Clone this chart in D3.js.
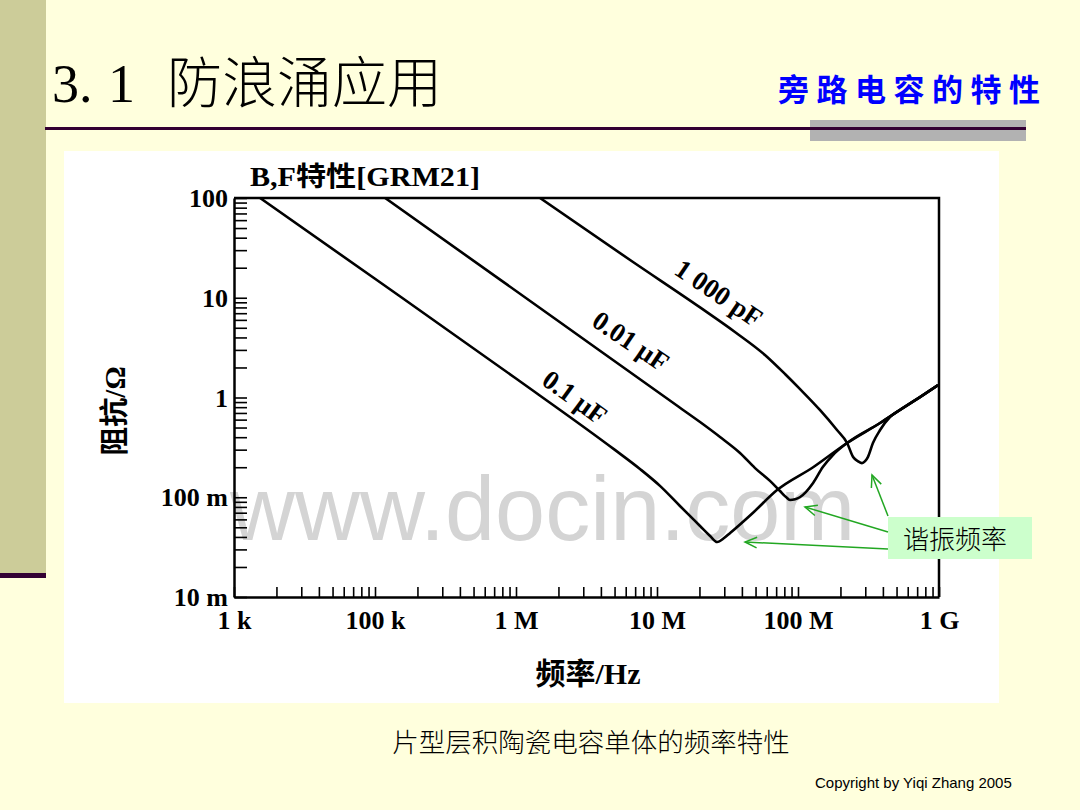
<!DOCTYPE html>
<html><head><meta charset="utf-8">
<script src="https://cdn.jsdelivr.net/npm/d3@7"></script>
<style>
html,body{margin:0;padding:0;background:#ffffdd;}
svg{display:block;}
</style></head>
<body>
<svg id="c" width="1080" height="810"></svg>
<script>
// ---------------- DATA ----------------
const xTickValues = [1e4, 1e5, 1e6, 1e7, 1e8, 1e9];
const xTickLabels = ["1 k", "100 k", "1 M", "10 M", "100 M", "1 G"];
const yTickValues = [100, 10, 1, 0.1, 0.01];
const yTickLabels = ["100", "10", "1", "100 m", "10 m"];

const seriesNames = ["0.1 μF", "0.01 μF", "1 000 pF"];

// 0.1 uF
const c1Freq = [1.53e4, 1e5, 1e6, 5e6, 7.57e6, 1.05e7, 1.455e7, 2.02e7, 2.38e7, 2.67e7, 2.99e7, 3.3e7, 4.8e7, 7.1e7, 1.28e8, 2.23e8, 3.82e8, 5.29e8, 7.33e8, 9.84e8];
const c1Imp  = [100, 15.5, 1.55, 0.30, 0.192, 0.130, 0.0817, 0.0515, 0.0409, 0.0356, 0.039, 0.0438, 0.070, 0.118, 0.20, 0.35, 0.555, 0.75, 1.01, 1.33];
// 0.01 uF
const c2Freq = [1.18e5, 7.71e5, 3.94e6, 1.455e7, 2.02e7, 2.80e7, 3.88e7, 4.96e7, 6.33e7, 7.45e7, 8.22e7, 8.77e7, 9.53e7, 1.03e8, 1.28e8, 1.50e8, 1.77e8, 2.23e8, 3.82e8, 5.29e8, 7.33e8, 9.84e8];
const c2Imp  = [100, 15.2, 2.94, 0.79, 0.568, 0.402, 0.278, 0.196, 0.146, 0.1156, 0.1005, 0.094, 0.0955, 0.100, 0.139, 0.201, 0.265, 0.35, 0.555, 0.75, 1.01, 1.33];
// 1000 pF
const c3Freq = [1.48e6, 6.76e6, 2.02e7, 3.57e7, 5.83e7, 8.09e7, 1.03e8, 1.43e8, 1.89e8, 2.23e8, 2.46e8, 2.67e8, 2.84e8, 2.99e8, 3.13e8, 3.40e8, 3.82e8, 4.49e8, 5.29e8, 7.33e8, 9.84e8];
const c3Imp  = [100, 22.8, 8.0, 4.54, 2.67, 1.72, 1.22, 0.75, 0.472, 0.35, 0.253, 0.229, 0.220, 0.23, 0.253, 0.35, 0.472, 0.638, 0.75, 1.01, 1.33];

// ---------------- DRAW ----------------
const svg = d3.select("#c");
const serif = "'Liberation Serif','Times New Roman','Noto Sans CJK SC',serif";
const cjk = "'Noto Sans CJK SC','Liberation Serif',sans-serif";

// slide background decorations
svg.append("rect").attr("x",0).attr("y",0).attr("width",1080).attr("height",810).attr("fill","#ffffdd");
svg.append("rect").attr("x",0).attr("y",0).attr("width",46).attr("height",574).attr("fill","#cccc99");
svg.append("rect").attr("x",0).attr("y",573).attr("width",46).attr("height",5).attr("fill","#330033");
svg.append("rect").attr("x",810).attr("y",120).attr("width",216).attr("height",21).attr("fill","#b2b2b2");
svg.append("rect").attr("x",45).attr("y",127).attr("width",981).attr("height",3).attr("fill","#330033");

// title
svg.append("text").attr("x",52).attr("y",102).attr("font-family",serif).attr("font-size",54).attr("fill","#000").text("3.");
svg.append("text").attr("x",108).attr("y",102).attr("font-family",serif).attr("font-size",54).attr("fill","#000").text("1");
svg.append("text").attr("x",167).attr("y",102).attr("font-family",cjk).attr("font-weight",300).attr("font-size",55).attr("fill","#000").text("防浪涌应用");

// subtitle
svg.append("text").attr("x",778).attr("y",101).attr("font-family",cjk).attr("font-weight",700)
  .attr("font-size",31).attr("letter-spacing",7.5).attr("fill","#0000ff").text("旁路电容的特性");

// white panel
svg.append("rect").attr("x",64).attr("y",151).attr("width",935).attr("height",552).attr("fill","#ffffff");

// scales
const x = d3.scaleLog().domain([1e4, 1e9]).range([234, 939]);
const y = d3.scaleLog().domain([0.01, 100]).range([597, 198]);

// watermark
svg.append("text").attr("x",230).attr("y",540).attr("font-family","'Liberation Sans',Arial,sans-serif")
  .attr("font-size",90).attr("fill","#d4d4d4").text("www.docin.com");

// axes
const xMinor = x.ticks();
const yMinor = y.ticks();
const fmtX = d => { const i = xTickValues.findIndex(v => Math.abs(v-d)/d < 1e-6); return i>=0 ? xTickLabels[i] : ""; };
const fmtY = d => { const i = yTickValues.findIndex(v => Math.abs(v-d)/d < 1e-6); return i>=0 ? yTickLabels[i] : ""; };

const gx = svg.append("g").attr("transform","translate(0,597)")
  .call(d3.axisBottom(x).tickValues(xMinor).tickSizeInner(-10).tickSizeOuter(0).tickFormat(fmtX));
gx.select(".domain").attr("stroke","#000").attr("stroke-width",2.5);
gx.selectAll(".tick line").attr("stroke","#000").attr("stroke-width",1.6);
gx.selectAll(".tick text").attr("y",32).attr("dy",0).attr("font-family",serif).attr("font-weight",700)
  .attr("font-size",26).attr("fill","#000");

const gy = svg.append("g").attr("transform","translate(234,0)")
  .call(d3.axisLeft(y).tickValues(yMinor).tickSizeInner(-13).tickSizeOuter(0).tickFormat(fmtY));
gy.select(".domain").attr("stroke","#000").attr("stroke-width",2.5);
gy.selectAll(".tick line").attr("stroke","#000").attr("stroke-width",1.6);
gy.selectAll(".tick text").attr("x",-6).attr("dy","0.33em").attr("font-family",serif).attr("font-weight",700)
  .attr("font-size",26).attr("fill","#000");

// top & right frame
svg.append("path").attr("d",`M${x(1e4)},${y(100)}H${x(1e9)}V${y(0.01)}`)
  .attr("fill","none").attr("stroke","#000").attr("stroke-width",2.5);

// axis titles
svg.append("text").attr("x",250).attr("y",186).attr("font-family",serif).attr("font-weight",700)
  .attr("font-size",27).attr("textLength",230).attr("lengthAdjust","spacingAndGlyphs").attr("fill","#000").text("B,F特性[GRM21]");
svg.append("text").attr("transform","translate(125,411) rotate(-90)").attr("text-anchor","middle")
  .attr("font-family",serif).attr("font-weight",700).attr("font-size",29).attr("fill","#000").text("阻抗/Ω");
svg.append("text").attr("x",588).attr("y",684).attr("text-anchor","middle")
  .attr("font-family",serif).attr("font-weight",700).attr("font-size",30).attr("fill","#000").text("频率/Hz");

// curves
const series = [
  {f:c1Freq, z:c1Imp},
  {f:c2Freq, z:c2Imp},
  {f:c3Freq, z:c3Imp}
];
const line = d3.line().x(d => x(d[0])).y(d => y(d[1])).curve(d3.curveMonotoneX);
svg.append("clipPath").attr("id","pc").append("rect")
  .attr("x",x(1e4)).attr("y",y(100)).attr("width",x(1e9)-x(1e4)).attr("height",y(0.01)-y(100));
series.forEach(s => {
  svg.append("path").attr("clip-path","url(#pc)")
    .attr("d", line(s.f.map((f,i)=>[f, s.z[i]])))
    .attr("fill","none").attr("stroke","#000").attr("stroke-width",2.6).attr("stroke-linejoin","round");
});

// curve labels
const labelPos = [[575,397,36],[631,341,34],[719,293,34]];
labelPos.forEach((p,i)=>{
  svg.append("text").attr("transform",`translate(${p[0]},${p[1]}) rotate(${p[2]})`).attr("text-anchor","middle")
    .attr("dy","0.35em").attr("font-family",serif).attr("font-weight",700).attr("font-size",27).attr("fill","#000")
    .text(seriesNames[i]);
});

// annotation
svg.append("rect").attr("x",888).attr("y",517).attr("width",144).attr("height",42).attr("fill","#ccffcc");
svg.append("text").attr("x",955).attr("y",549).attr("text-anchor","middle").attr("font-family",cjk)
  .attr("font-weight",300).attr("font-size",26).attr("fill","#000").text("谐振频率");
const arrows = [[888,516,872,475],[888,532,805,507],[888,549,745,542]];
const green = "#22a722";
arrows.forEach(a=>{
  const [x1,y1,x2,y2]=a;
  svg.append("line").attr("x1",x1).attr("y1",y1).attr("x2",x2).attr("y2",y2).attr("stroke",green).attr("stroke-width",1.5);
  const ang = Math.atan2(y1-y2, x1-x2), L=13, w=0.42;
  const p1=[x2+L*Math.cos(ang+w), y2+L*Math.sin(ang+w)], p2=[x2+L*Math.cos(ang-w), y2+L*Math.sin(ang-w)];
  svg.append("path").attr("d",`M${p1}L${x2},${y2}L${p2}`).attr("fill","none").attr("stroke",green).attr("stroke-width",1.5);
});

// caption & copyright
svg.append("text").attr("x",591).attr("y",752).attr("text-anchor","middle").attr("font-family",cjk)
  .attr("font-weight",300).attr("font-size",26.5).attr("fill","#000").text("片型层积陶瓷电容单体的频率特性");
svg.append("text").attr("x",815).attr("y",788).attr("font-family","'Liberation Sans',Arial,sans-serif")
  .attr("font-size",15).attr("fill","#000").text("Copyright by Yiqi Zhang 2005");
</script>
</body></html>
